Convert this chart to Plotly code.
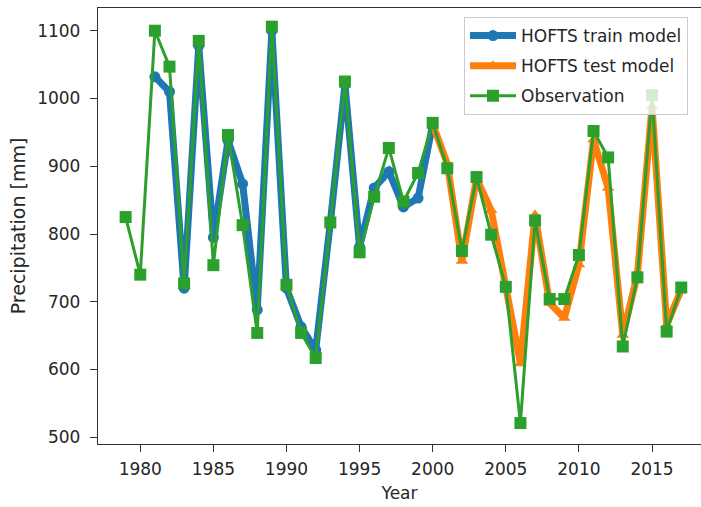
import plotly.graph_objects as go

obs_years = list(range(1979, 2018))
obs_values = [825, 740, 1100, 1047, 727, 1085, 754, 946, 813, 654, 1106, 725, 654, 617,
              817, 1025, 773, 855, 927, 848, 890, 964, 897, 775, 884, 799, 722, 521,
              820, 704, 704, 769, 952, 913, 634, 736, 1005, 656, 721]

train_years = list(range(1981, 2001))
train_values = [1032, 1010, 720, 1078, 795, 938, 874, 688, 1100, 720, 663, 629, 817,
                1020, 781, 868, 892, 840, 853, 962]

test_years = list(range(2000, 2018))
test_values = [962, 904, 760, 882, 835, 725, 609, 828, 698, 676, 755, 939, 868, 651,
               740, 988, 666, 718]

x_ticks = [1980, 1985, 1990, 1995, 2000, 2005, 2010, 2015]
y_ticks = [500, 600, 700, 800, 900, 1000, 1100]

FONT = "DejaVu Sans"
TXT = "#262626"

fig = go.Figure()
fig.add_trace(go.Scatter(
    x=train_years, y=train_values, name="HOFTS train model", mode="lines+markers",
    line=dict(color="#1f77b4", width=7), marker=dict(symbol="circle", size=11, color="#1f77b4"),
    legendgroup="a"))
fig.add_trace(go.Scatter(
    x=test_years, y=test_values, name="HOFTS test model", mode="lines+markers",
    line=dict(color="#ff7f0e", width=7), marker=dict(symbol="triangle-up", size=11, color="#ff7f0e"),
    legendgroup="b"))
fig.add_trace(go.Scatter(
    x=obs_years, y=obs_values, name="Observation", mode="lines+markers",
    line=dict(color="#2ca02c", width=3), marker=dict(symbol="square", size=12, color="#2ca02c"),
    legendgroup="c"))

fig.update_layout(
    width=701, height=507,
    margin=dict(l=98, r=0, t=8, b=63),
    paper_bgcolor="white", plot_bgcolor="white",
    font=dict(family=FONT, size=17, color=TXT),
    showlegend=True,
    legend=dict(
        x=(464 - 98) / (701 - 98), y=1 - (17 - 8) / 436, xanchor="left", yanchor="top",
        bgcolor="rgba(255,255,255,0.8)", bordercolor="#cccccc", borderwidth=1,
        font=dict(family=FONT, size=17, color=TXT), tracegroupgap=5, itemwidth=46,
        traceorder="grouped",
    ),
    xaxis=dict(
        range=[1977.11, 2018.35], tickmode="array", tickvals=x_ticks,
        ticks="outside", ticklen=7, tickwidth=1.3, tickcolor="#333333",
        showline=True, linecolor="#333333", linewidth=1.3, mirror=True,
        showgrid=False, zeroline=False, ticklabelstandoff=2,
        title=dict(text="Year", font=dict(family=FONT, size=17, color=TXT), standoff=9),
    ),
    yaxis=dict(
        range=[490.1, 1133.5], tickmode="array", tickvals=y_ticks,
        ticks="outside", ticklen=7, tickwidth=1.3, tickcolor="#333333",
        showline=True, linecolor="#333333", linewidth=1.3, mirror=False,
        showgrid=False, zeroline=False, ticklabelstandoff=6,
        title=dict(text="Precipitation [mm]", font=dict(family=FONT, size=19, color=TXT), standoff=6),
    ),
)

fig.write_html("out.html")
